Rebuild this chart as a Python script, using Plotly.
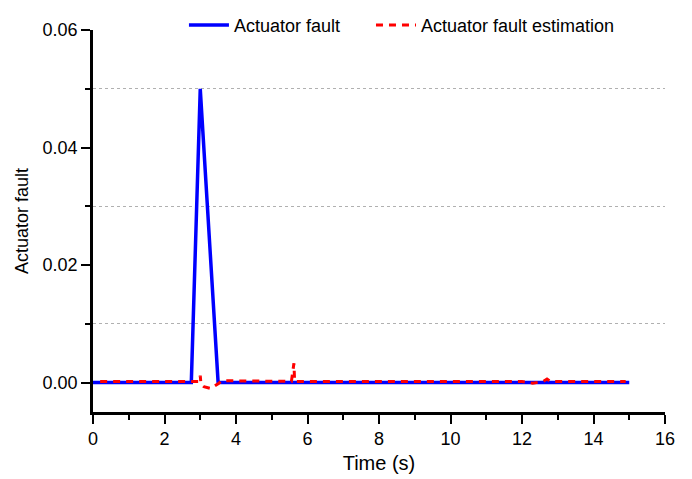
import plotly.graph_objects as go

# Actual actuator fault
fault_t = [0.0, 2.75, 3.0, 3.5, 15.0]
fault_v = [0.0, 0.0, 0.05, 0.0, 0.0]

# Estimated actuator fault
est_t = [0.2, 2.9, 2.98, 3.0, 3.02, 3.1, 3.3, 3.5, 3.6, 4.0, 5.0, 5.55, 5.62, 5.64,
         5.7, 6.0, 7.0, 8.0, 9.0, 10.0, 11.0, 12.0, 12.3, 12.45, 12.6, 12.7, 12.8,
         13.0, 14.0, 14.9]
est_v = [0.0002, 0.0002, 0.0002, 0.0012, -0.0003, -0.0007, -0.0010, -0.0002, 0.0003,
         0.0003, 0.0003, 0.0002, 0.0033, 0.0002, 0.0002, 0.0002, 0.0002, 0.0002,
         0.0002, 0.0002, 0.0002, 0.0002, -0.0001, 0.0001, 0.0002, 0.0006, 0.0002,
         0.0002, 0.0002, 0.0002]

x_ticks = [0, 2, 4, 6, 8, 10, 12, 14, 16]
y_ticks = [0.00, 0.02, 0.04, 0.06]
y_ticklabels = ["0.00", "0.02", "0.04", "0.06"]
y_minor = [0.01, 0.03, 0.05]

fig = go.Figure()
fig.add_trace(go.Scatter(x=fault_t, y=fault_v, mode="lines", name="Actuator fault",
                         line=dict(color="#0000ff", width=3.5), legend="legend"))
fig.add_trace(go.Scatter(x=est_t, y=est_v, mode="lines", name="Actuator fault estimation",
                         line=dict(color="#ff0000", width=3, dash="7px,6px"), legend="legend2"))

font_family = "Liberation Sans, Arial, sans-serif"
legend_style = dict(orientation="h", xanchor="left", y=1.012, yanchor="middle",
                    bgcolor="rgba(0,0,0,0)", font=dict(size=18), itemwidth=40)
fig.update_layout(
    width=692, height=479,
    margin=dict(l=93, r=27, t=30, b=67, autoexpand=False),
    paper_bgcolor="white", plot_bgcolor="white",
    font=dict(family=font_family, size=18, color="black"),
    showlegend=True,
    legend=dict(x=0.159, **legend_style),
    legend2=dict(x=0.486, **legend_style),
)
fig.update_xaxes(
    range=[0, 16], tickvals=x_ticks, ticktext=[str(v) for v in x_ticks],
    showline=True, linecolor="black", linewidth=2.5, mirror=False,
    ticks="outside", ticklen=9, tickwidth=2, tickcolor="black",
    showgrid=False, zeroline=False, automargin=False,
    minor=dict(dtick=1, tick0=0, ticks="outside", ticklen=5, tickwidth=2, tickcolor="black", showgrid=False),
    title=dict(text="Time (s)", font=dict(size=20), standoff=8),
)
fig.update_yaxes(
    range=[-0.005, 0.06], tickvals=y_ticks, ticktext=y_ticklabels,
    showline=True, linecolor="black", linewidth=2.5, mirror=False,
    ticks="outside", ticklen=9, tickwidth=2, tickcolor="black",
    showgrid=False, zeroline=False, automargin=False,
    minor=dict(tickvals=y_minor, ticks="outside", ticklen=5, tickwidth=2, tickcolor="black",
               showgrid=True, gridcolor="#b0b0b0", griddash="dot", gridwidth=1),
    title=dict(text="Actuator fault", font=dict(size=18), standoff=10),
)

fig.write_html("out.html")
